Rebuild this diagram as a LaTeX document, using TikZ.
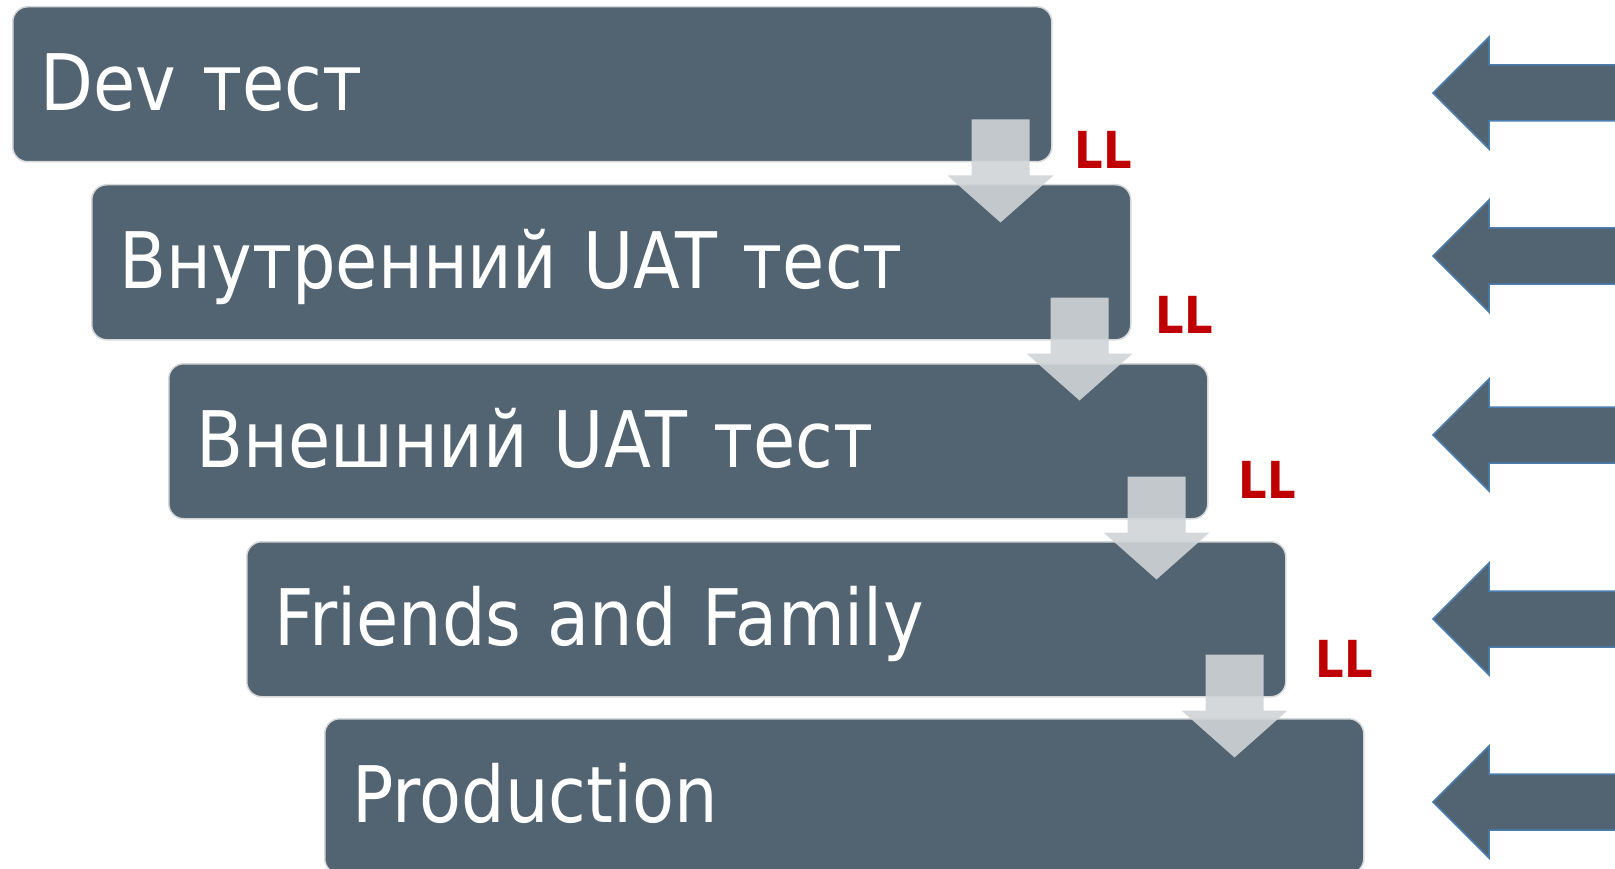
\documentclass[tikz,border=0pt]{standalone}
\usepackage{fontspec}
\setmainfont{DejaVu Sans}[FakeStretch=0.88]
\usepackage{tikz}
\usetikzlibrary{positioning, calc}

\definecolor{slate}{RGB}{82,99,113}
\definecolor{slateedge}{RGB}{214,216,218}
\definecolor{arrowedge}{RGB}{74,126,176}
\definecolor{dropgray}{RGB}{208,212,215}
\definecolor{llred}{RGB}{192,0,0}

\begin{document}
\begin{tikzpicture}[
		x = 1pt, y = -1pt,
		stage/.style = {rectangle, draw=slateedge, line width=1.5pt, fill=slate,
				rounded corners=15pt, anchor=north west,
				minimum width=1039pt, minimum height=155pt,
				inner xsep=27pt, text width=983pt, align=left,
				text height=53pt, text depth=0pt, text=white,
				font=\fontsize{78}{90}\selectfont},
		drop/.style = {fill=dropgray, fill opacity=0.9},
		inarrow/.style = {fill=slate, draw=arrowedge, line width=1.5pt},
		lltag/.style = {text=llred, font=\fontsize{51}{52}\selectfont\bfseries},
	]
	\clip (0,0) rectangle (1615,869);

	% Stages of testing
	\node [stage] (dev) at (12,6) {Dev тест};
	\node [stage] (intuat) at (91,184) {Внутренний UAT тест};
	\node [stage] (extuat) at (168,363) {Внешний UAT тест};
	\node [stage] (friends) at (246,541) {Friends and Family};
	\node [stage] (prod) at (324,718) {Production};

	% Arrows between stages
	\foreach \s in {dev,intuat,extuat,friends}
	\fill [drop] ($(\s.south east)+(-81,-43)$) -- ++(58,0) -- ++(0,56) -- ++(24,0)
		-- ++(-53,47) -- ++(-53,-47) -- ++(24,0) -- cycle;

	% LL marks
	\node [lltag] (ll1) at (1103,150) {LL};
	\node [lltag] (ll2) at (1184,315) {LL};
	\node [lltag] (ll3) at (1267,480) {LL};
	\node [lltag] (ll4) at (1344,659) {LL};

	% Incoming arrows on the right
	\foreach \y in {93,256,435,619,802}
	\draw [inarrow] (1433,\y) -- (1489,\y-56) -- (1489,\y-28) -- (1625,\y-28)
		-- (1625,\y+28) -- (1489,\y+28) -- (1489,\y+56) -- cycle;
\end{tikzpicture}
\end{document}
